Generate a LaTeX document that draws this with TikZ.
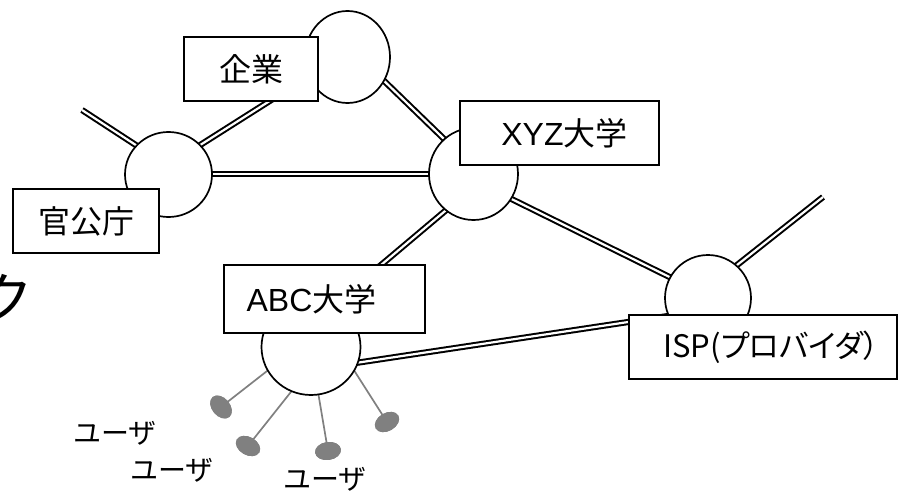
\documentclass[tikz,border=0pt]{standalone}
\usepackage{fontspec}
\setmainfont{Liberation Sans}
\newfontfamily\jp{Noto Sans CJK JP}
\newfontfamily\jpp[RawFeature=+palt]{Noto Sans CJK JP}
\usetikzlibrary{shapes.geometric}
\definecolor{usergray}{RGB}{128,128,128}
\tikzset{
  link/.style={draw=black, line width=2pt, double=white, double distance=2.2pt, line cap=butt},
  hub/.style={draw=black, line width=1.7pt, fill=white, ellipse, inner sep=0pt},
  orgbox/.style={draw=black, line width=1.8pt, fill=white, rectangle, inner sep=0pt, font=\fontsize{32}{32}\selectfont},
  userline/.style={draw=usergray, line width=1.7pt},
  userdot/.style={fill=usergray, ellipse, inner sep=0pt, minimum width=26pt, minimum height=18pt},
  userlabel/.style={font=\jp\fontsize{28}{28}\selectfont, inner sep=0pt}
}
\begin{document}
\begin{tikzpicture}[x=1pt,y=-1pt]
\useasboundingbox (0,0) rectangle (899,492);
\clip (0,0) rectangle (899,492);
\fill[white] (0,0) rectangle (899,492);
% big cut-off title glyph
\node[font=\jp\fontsize{56}{56}\selectfont, inner sep=0pt] (title) at (5,298) {ク};
% hub centres
\coordinate (cCorp) at (347.5,57);
\coordinate (cGov) at (168.5,174.5);
\coordinate (cXyz) at (473.5,174);
\coordinate (cIsp) at (708,298);
\coordinate (cAbc) at (311,347);
% link end points
\coordinate (govTail) at (82,110);
\coordinate (govIn1) at (168,166);
\coordinate (govIn2) at (160,170.5);
\coordinate (corpIn1) at (347,52);
\coordinate (govIn3) at (168,174);
\coordinate (xyzIn1) at (473,174);
\coordinate (corpIn2) at (347,45);
\coordinate (xyzIn2) at (473,167);
\coordinate (xyzIn3) at (470,190);
\coordinate (abcIn1) at (311,324);
\coordinate (xyzIn4) at (473,180);
\coordinate (ispIn1) at (708,296);
\coordinate (ispIn2) at (708,288);
\coordinate (ispTail) at (823,197);
\coordinate (abcIn2) at (311,369.7);
\coordinate (ispIn3) at (708,310);
% double links
\draw[link] (govTail) -- (govIn1);
\draw[link] (govIn2) -- (corpIn1);
\draw[link] (govIn3) -- (xyzIn1);
\draw[link] (corpIn2) -- (xyzIn2);
\draw[link] (xyzIn3) -- (abcIn1);
\draw[link] (xyzIn4) -- (ispIn1);
\draw[link] (ispIn2) -- (ispTail);
\draw[link] (abcIn2) -- (ispIn3);
% users
\node[userdot, rotate=-50] (u1) at (221,407) {};
\node[userdot, rotate=-30] (u2) at (248,446) {};
\node[userdot, rotate=8] (u3) at (328,451) {};
\node[userdot, rotate=30] (u4) at (387,422) {};
\coordinate (a1) at (285,357);
\coordinate (a2) at (302,378);
\coordinate (a3) at (316,380);
\coordinate (a4) at (350,364);
\draw[userline] (u1.center) -- (a1);
\draw[userline] (u2.center) -- (a2);
\draw[userline] (u3.center) -- (a3);
\draw[userline] (u4.center) -- (a4);
\node[userdot, rotate=-50] at (u1) {};
\node[userdot, rotate=-30] at (u2) {};
\node[userdot, rotate=8] at (u3) {};
\node[userdot, rotate=30] at (u4) {};
% hubs
\node[hub, minimum width=85pt, minimum height=92pt] (hCorp) at (cCorp) {};
\node[hub, minimum width=87pt, minimum height=85pt] (hGov) at (cGov) {};
\node[hub, minimum width=89pt, minimum height=92pt] (hXyz) at (cXyz) {};
\node[hub, minimum width=86pt, minimum height=86pt] (hIsp) at (cIsp) {};
\node[hub, minimum width=99pt, minimum height=96pt] (hAbc) at (cAbc) {};
% organisation boxes
\node[orgbox, minimum width=134pt, minimum height=64pt] (bCorp) at (251,69) {\jp 企業};
\node[orgbox, minimum width=146pt, minimum height=64pt] (bGov) at (86,221) {\jp 官公庁};
\node[orgbox, minimum width=199pt, minimum height=64pt] (bXyz) at (559.5,133) {\kern10pt XYZ{\jp 大学}};
\node[orgbox, minimum width=201pt, minimum height=68pt] (bAbc) at (324.5,299) {ABC{\jp 大学}\kern26pt};
\node[orgbox, minimum width=268pt, minimum height=64pt, font=\fontsize{31}{31}\selectfont] (bIsp) at (763,347) {\kern16pt{\jpp ISP(プロバイダ）}};
% user labels
\node[userlabel] (l1) at (115,433) {ユーザ};
\node[userlabel] (l2) at (172,470) {ユーザ};
\node[userlabel] (l3) at (325,479) {ユーザ};
\end{tikzpicture}
\end{document}
